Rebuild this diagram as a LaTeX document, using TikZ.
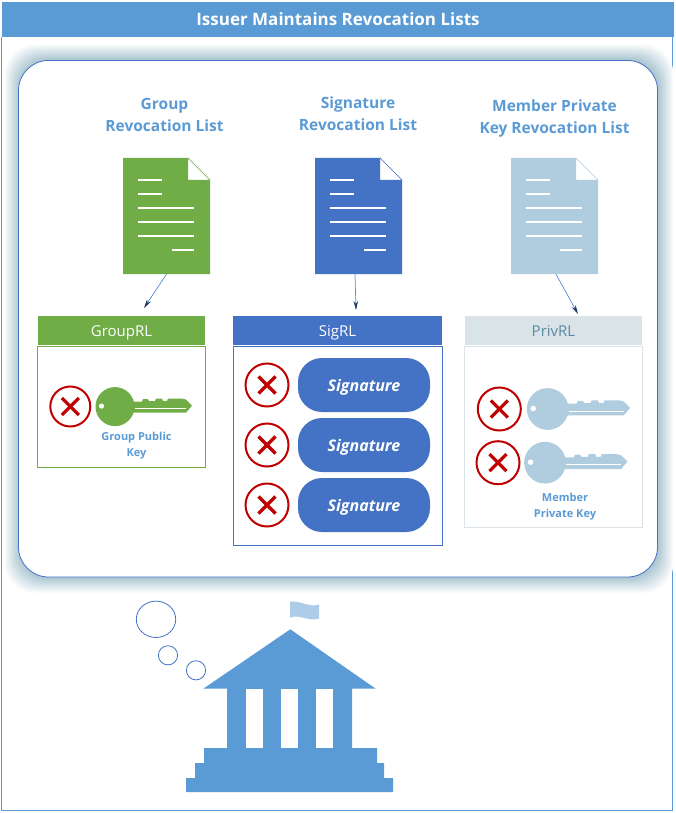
\documentclass[tikz,border=0pt]{standalone}
\usepackage{fontspec}
\setmainfont{Open Sans}
\usepackage{tikz}
\usetikzlibrary{calc,positioning,arrows,arrows.meta,shapes.geometric}

\definecolor{titleblue}{HTML}{5B9BD5}
\definecolor{listgreen}{HTML}{70AD47}
\definecolor{listblue}{HTML}{4472C4}
\definecolor{listpale}{HTML}{AFCDDF}
\definecolor{hdrpale}{HTML}{DAE3E8}
\definecolor{hdrtext}{HTML}{5A8CA3}
\definecolor{crossred}{HTML}{C00000}
\definecolor{flagblue}{HTML}{ADCCEA}
\definecolor{softedge}{HTML}{A6C2CF}
\definecolor{tipnavy}{HTML}{1F3864}

% a page with a folded corner and six text lines, #1 = left edge, #2 = colour
\newcommand{\listpage}[2]{
    \fill[#2] (#1,158) -- ++(65,0) -- ++(22,22) -- (#1+87,274) -- (#1,274) -- cycle;
    \draw[#2,fill=white,line width=0.4pt] (#1+65,158) -- ++(22,22) -- ++(-22,0) -- cycle;
    \draw[white,line width=2pt] (#1+15,180) -- ++(24,0);
    \draw[white,line width=2pt] (#1+15,194) -- ++(24,0);
    \draw[white,line width=2pt] (#1+15,208) -- ++(56,0);
    \draw[white,line width=2pt] (#1+15,222) -- ++(56,0);
    \draw[white,line width=2pt] (#1+15,236) -- ++(56,0);
    \draw[white,line width=2pt] (#1+49,250) -- ++(22,0);
}

% a key, #1 = centre of its bow, #2 = scale, #3 = colour
\newcommand{\revkey}[3]{
    \begin{scope}[shift={(#1)},scale=#2]
    \fill[#3] (0,0) circle (19.5);
    \fill[#3] (15,-5) -- (27,-5) -- (28,-7.5) -- (33,-7.5) -- (34,-5.5) -- (40,-5.5)
        -- (41,-8) -- (47,-8) -- (48,-5.5) -- (52,-5.5) -- (53,-8) -- (67,-8)
        -- (71,-7) -- (77,-1) -- (71,6) -- (15,6) -- cycle;
    \fill[white] (-13.5,-0.5) circle (2.6);
    \draw[white,line width=1pt] (20,2) -- (71,2);
    \end{scope}
}

% a red circle with a cross in it, #1 = centre, #2 = radius
\newcommand{\revcross}[2]{
    \draw[crossred,line width=2pt] (#1) circle (#2);
    \draw[crossred,line width=3.2pt] ($(#1)+(-8.5,-8.5)$) -- ($(#1)+(8.5,8.5)$);
    \draw[crossred,line width=3.2pt] ($(#1)+(-8.5,8.5)$) -- ($(#1)+(8.5,-8.5)$);
}

\begin{document}
\begin{tikzpicture}
[x=1pt,y=-1pt]

    \tikzstyle{every node}=[align=center,inner sep=0pt]
    \tikzstyle{listhead}=[font=\bfseries\fontsize{15.5}{22}\selectfont,text=titleblue]
    \tikzstyle{rlhead}=[minimum height=29pt,text height=14pt,text depth=2pt,
                        font=\fontsize{15}{16}\selectfont]
    \tikzstyle{keytext}=[font=\bfseries\fontsize{11}{16}\selectfont,text=titleblue]
    \tikzstyle{sigpill}=[fill=listblue,rounded corners=24pt,minimum width=132pt,
                         minimum height=54pt,text=white,text height=13pt,text depth=1pt,
                         font=\bfseries\itshape\fontsize{16}{18}\selectfont]
    \tikzstyle{listarrow}=[titleblue!60!listblue,line width=0.7pt,
                           -{Stealth[length=9pt,width=4.5pt,color=tipnavy]}]

    \useasboundingbox (0,0) rectangle (675,813);
    \fill[white] (0,0) rectangle (675,813);

    % outer frame and title
    \draw[titleblue,line width=1pt] (1.5,37) -- (1.5,810.5) -- (672,810.5) -- (672,37);
    \node (title) [fill=titleblue,minimum width=672pt,minimum height=35pt,text=white,
        font=\bfseries\fontsize{17}{19}\selectfont] at (338,19.5) {Issuer Maintains Revocation Lists};

    % the soft edge round the large box
    \foreach \i in {16,...,1}
        \fill[softedge!\the\numexpr 100-\i*6\relax!white,rounded corners=30pt]
            (18.5-\i+2,60.5-\i) rectangle (657.5+\i,577+\i);
    \draw[listblue,fill=white,line width=0.8pt,rounded corners=30pt] (18.5,60.5) rectangle (657.5,577);

    % This is the three titles:
    \node (grouptitle) [listhead] at (164.5,115) {Group\\Revocation List};
    \node (sigtitle) [listhead] at (358,114) {Signature\\Revocation List};
    \node (privtitle) [listhead] at (554.5,118) {Member Private\\Key Revocation List};

    % pages
    \listpage{123}{listgreen}
    \listpage{315}{listblue}
    \listpage{511}{listpale}
    \node (grouppage) [minimum width=87pt,minimum height=116pt] at (166.5,216) {};
    \node (sigpage) [minimum width=87pt,minimum height=116pt] at (355,216) {};
    \node (privpage) [minimum width=87pt,minimum height=116pt] at (556,216) {};

    % GroupRL
    \node (grouphdr) [rlhead,fill=listgreen,text=white,minimum width=167pt] at (121.5,330.5) {GroupRL};
    \node (groupbox) [draw=listgreen,line width=0.8pt,minimum width=168pt,minimum height=121pt] at (121.5,406.5) {};
    \revcross{70.3,406.5}{20}
    \revkey{115,406.6}{1}{listgreen}
    \node (groupkey) [keytext] at (136.5,446) {Group Public\\Key};

    % SigRL
    \node (sighdr) [rlhead,fill=listblue,text=white,minimum width=209pt] at (337.5,330.5) {SigRL};
    \node (sigbox) [draw=listblue,line width=0.8pt,minimum width=209pt,minimum height=199pt] at (337.5,445.5) {};
    \revcross{267,385}{21.5}
    \revcross{267,445}{21.5}
    \revcross{267,505}{21.5}
    \node (sigone) [sigpill] at (364,385) {Signature};
    \node (sigtwo) [sigpill] at (364,445) {Signature};
    \node (sigthree) [sigpill] at (364,505) {Signature};

    % PrivRL
    \node (privhdr) [rlhead,fill=hdrpale,text=hdrtext,minimum width=177pt] at (553.5,330.5) {PrivRL};
    \node (privbox) [draw=hdrpale,line width=0.8pt,minimum width=178pt,minimum height=181pt] at (553.5,436.5) {};
    \revcross{499.3,409}{21.5}
    \revcross{498,462.7}{21.5}
    \revkey{547.7,409}{1.07}{listpale}
    \revkey{545,462.7}{1.07}{listpale}
    \node (privkey) [keytext] at (565,507) {Member\\Private Key};

    % arrows from the pages
    \coordinate (grouptip) at (144,308);
    \coordinate (sigtip) at (356,310);
    \coordinate (privtip) at (578,314);
    \draw[listarrow] (grouppage.south) -- (grouptip);
    \draw[listarrow] (sigpage.south) -- (sigtip);
    \draw[listarrow] (privpage.south) -- (privtip);

    % thought bubbles
    \draw[listblue,line width=0.8pt] (156,619.3) ellipse (19.7 and 18.2);
    \draw[listblue,line width=0.8pt] (168,655.3) circle (9.6);
    \draw[listblue,line width=0.8pt] (196,670.3) circle (9.6);

    % the issuer's building
    \fill[titleblue] (290.3,629.3) -- (375.7,688.7) -- (352,688.7) -- (352,748) -- (377,748)
        -- (377,763) -- (384,763) -- (384,778) -- (393,778) -- (393,792) -- (186,792)
        -- (186,778) -- (195,778) -- (195,763) -- (204,763) -- (204,748) -- (227,748)
        -- (227,688.7) -- (203.3,688.7) -- cycle;
    \fill[white] (246,688.7) rectangle (263,748);
    \fill[white] (281,688.7) rectangle (298,748);
    \fill[white] (316,688.7) rectangle (333,748);
    \fill[flagblue] (290,601.7) .. controls (300,600) and (309,608) .. (319,604.5)
        -- (319,618.5) .. controls (309,622) and (300,614) .. (290,617.5) -- cycle;

\end{tikzpicture}
\end{document}
